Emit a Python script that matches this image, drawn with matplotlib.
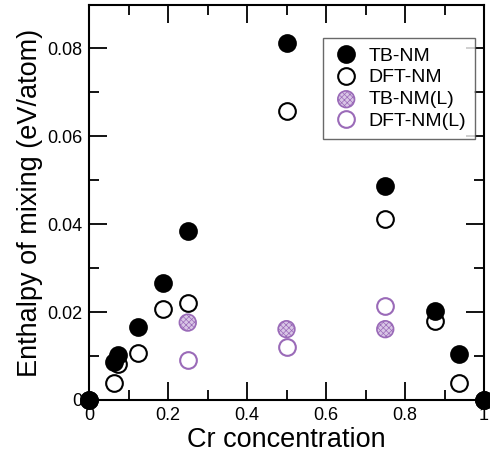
import matplotlib.pyplot as plt
import numpy as np

plt.rcParams['font.family'] = ['Liberation Sans', 'DejaVu Sans']
plt.rcParams['hatch.linewidth'] = 0.5

# Cr concentration and enthalpy of mixing (eV/atom)
x_nm = [0.0, 0.0625, 0.0741, 0.125, 0.1875, 0.25, 0.5, 0.75, 0.875, 0.9375, 1.0]
tb_nm = [0.0, 0.0087, 0.0102, 0.0167, 0.0267, 0.0384, 0.0811, 0.0487, 0.0203, 0.0105, 0.0]
dft_nm = [0.0, 0.0039, 0.0081, 0.0106, 0.0207, 0.0220, 0.0657, 0.0411, 0.0180, 0.0039, 0.0]

x_l = [0.25, 0.5, 0.75]
tb_nm_l = [0.0176, 0.0161, 0.0161]
dft_nm_l = [0.0092, 0.0121, 0.0214]

xticks = [0, 0.2, 0.4, 0.6, 0.8, 1.0]
xticklabels = ['0', '0.2', '0.4', '0.6', '0.8', '1']
yticks = [0, 0.02, 0.04, 0.06, 0.08]
yticklabels = ['0', '0.02', '0.04', '0.06', '0.08']

purple = '#9a6ab8'

fig = plt.figure(figsize=(4.9, 4.53), dpi=100)
ax = fig.add_axes([89 / 490, 53 / 453, 395 / 490, 395 / 453])

ms = 12
ax.plot(x_nm, dft_nm, 'o', ms=ms, mfc='white', mec='black', mew=1.5,
        clip_on=False, zorder=3, label='DFT-NM')
ax.plot(x_nm, tb_nm, 'o', ms=ms, mfc='black', mec='black', mew=1.5,
        clip_on=False, zorder=4, label='TB-NM')
ax.scatter(x_l, tb_nm_l, s=ms ** 2, facecolor='#d9c6e6', edgecolor=purple,
           hatch='xxxxxx', linewidth=1.2, zorder=3, label='TB-NM(L)')
ax.plot(x_l, dft_nm_l, 'o', ms=ms, mfc='none', mec=purple, mew=1.5,
        zorder=3, label='DFT-NM(L)')

ax.set_xlim(0, 1)
ax.set_ylim(0, 0.0898)
ax.set_xticks(xticks)
ax.set_xticklabels(xticklabels)
ax.set_yticks(yticks)
ax.set_yticklabels(yticklabels)
ax.set_xticks(np.arange(0.1, 1.0, 0.2), minor=True)
ax.set_yticks(np.arange(0.01, 0.09, 0.02), minor=True)
ax.tick_params(which='both', direction='in', top=True, right=True,
               labelsize=13, width=1.3)
ax.tick_params(axis='y', pad=5)
ax.tick_params(axis='x', pad=5)
ax.tick_params(which='major', length=13)
ax.tick_params(which='minor', length=7)
for sp in ax.spines.values():
    sp.set_linewidth(1.5)

ax.set_xlabel('Cr concentration', fontsize=19.5, labelpad=2)
ax.set_ylabel('Enthalpy of mixing (eV/atom)', fontsize=19.5)
ax.yaxis.set_label_coords(-0.117, 0.5)

handles, labels = ax.get_legend_handles_labels()
order = [1, 0, 2, 3]
leg = ax.legend([handles[i] for i in order], [labels[i] for i in order],
                loc='upper right', bbox_to_anchor=(0.977, 0.916), fontsize=14,
                frameon=True, fancybox=False, edgecolor='#444444',
                handletextpad=0.4, borderpad=0.45, labelspacing=0.22,
                handlelength=1.5, borderaxespad=0)
leg.get_frame().set_linewidth(1.0)

fig.savefig('out.png', dpi=100)
